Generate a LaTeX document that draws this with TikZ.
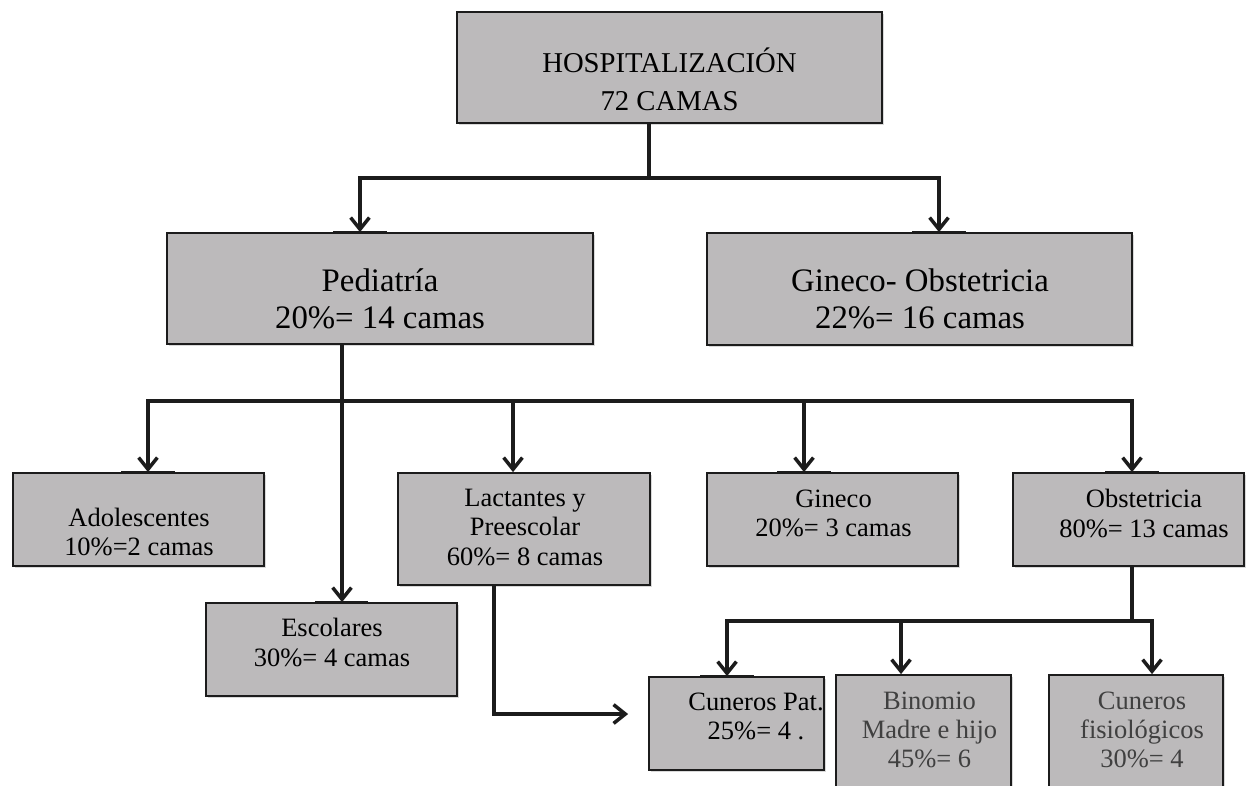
\documentclass[tikz,border=0pt]{standalone}
\usepackage{fontspec}
\setmainfont{Liberation Serif}
\usetikzlibrary{arrows.meta,shadows}
\definecolor{boxgray}{RGB}{188,186,187}
\definecolor{linegray}{RGB}{28,28,28}

\begin{document}
\begin{tikzpicture}[x=0.03cm,y=-0.03cm,
    box/.style={draw=linegray,line width=1.5pt,fill=boxgray,inner sep=0pt,
      drop shadow={shadow xshift=1.5pt,shadow yshift=-1.5pt,opacity=.3}},
    big/.style={align=center,font=\fontsize{28}{31.6}\selectfont},
    small/.style={align=center,font=\fontsize{22.6}{24.8}\selectfont},
    conn/.style={draw=linegray,line width=4pt},
    arr/.style={conn,-{Straight Barb[length=10pt,width=16pt,line width=3pt]}},
    landbar/.style={draw=linegray,line width=2.5pt}]
  \useasboundingbox (0,0) rectangle (1247,786);
  \clip (0,0) rectangle (1247,786);

  % boxes
  \node[box,minimum width=12.75cm,minimum height=3.33cm] (hosp) at (669.5,67.5) {};
  \node[box,minimum width=12.78cm,minimum height=3.33cm] (ped) at (380,288.5) {};
  \node[box,minimum width=12.75cm,minimum height=3.36cm] (gob) at (919.5,289) {};
  \node[box,minimum width=7.53cm,minimum height=2.79cm] (ado) at (138.5,519.5) {};
  \node[box,minimum width=7.53cm,minimum height=2.79cm] (esc) at (331.5,649.5) {};
  \node[box,minimum width=7.56cm,minimum height=3.36cm] (lac) at (524,529) {};
  \node[box,minimum width=7.53cm,minimum height=2.79cm] (gin) at (832.5,519.5) {};
  \node[box,minimum width=6.93cm,minimum height=2.79cm] (obs) at (1128.5,519.5) {};
  \node[box,minimum width=5.25cm,minimum height=2.79cm] (cpat) at (736.5,723.5) {};
  \node[box,minimum width=5.25cm,minimum height=4.05cm] (bin) at (923.5,742.5) {};
  \node[box,minimum width=5.22cm,minimum height=4.05cm] (cfis) at (1136,742.5) {};

  % texts
  \node[big,font=\fontsize{24.5}{32.4}\selectfont] (hosp-t) at (669.5,79) {HOSPITALIZACIÓN\\72 CAMAS};
  \node[big] (ped-t) at (380,299) {Pediatría\\20\%= 14 camas};
  \node[big] (gob-t) at (920,299) {Gineco- Obstetricia\\22\%= 16 camas};
  \node[small] (ado-t) at (139,532) {Adolescentes\\10\%=2 camas};
  \node[small] (esc-t) at (332,642.5) {Escolares\\30\%= 4 camas};
  \node[small] (lac-t) at (525,527.5) {Lactantes y\\Preescolar\\60\%= 8 camas};
  \node[small] (gin-t) at (833.5,513) {Gineco\\20\%= 3 camas};
  \node[small] (obs-t) at (1144,513.5) {Obstetricia\\80\%= 13 camas};
  \node[small] (cpat-t) at (756,716) {Cuneros Pat.\\25\%= 4 .};
  \node[small,text=black!75] (bin-t) at (929.5,730) {Binomio\\Madre e hijo\\45\%= 6};
  \node[small,text=black!75] (cfis-t) at (1142,730) {Cuneros\\fisiológicos\\30\%= 4};

  % junctions
  \coordinate (bar0) at (649,178);
  \coordinate (bar1) at (342,401);
  \coordinate (bar2) at (1132,621);

  % connectors
  \draw[conn] (hosp.south -| bar0) -- (bar0);
  \draw[arr] (bar0) -| ([xshift=-.6cm]ped.north);
  \draw[arr] (bar0) -| ([xshift=.585cm]gob.north);

  \draw[arr] (ped.south -| bar1) -- (esc.north -| bar1);
  \draw[arr] (bar1) -| ([xshift=.285cm]ado.north);
  \draw[arr] (bar1) -| ([xshift=-.33cm]lac.north);
  \draw[arr] (bar1) -| ([xshift=-.855cm]gin.north);
  \draw[arr] (bar1) -| ([xshift=.105cm]obs.north);

  \draw[arr] ([xshift=-.9cm]lac.south) |- ([xshift=-.6cm,yshift=.285cm]cpat.west);

  \draw[conn] (obs.south -| bar2) -- (bar2);
  \draw[arr] (bar2) -| ([xshift=-.285cm]cpat.north);
  \draw[arr] (bar2) -| ([xshift=-.675cm]bin.north);
  \draw[arr] (bar2) -| ([xshift=.48cm]cfis.north);

  % dark marks where arrows land
  \foreach \n/\s in {ped/-.6,gob/.585,ado/.285,esc/.3,gin/-.855,obs/.105,cpat/-.285}
    \draw[landbar] ([xshift={(\s-.8)*1cm}]\n.north) -- ([xshift={(\s+.8)*1cm}]\n.north);
\end{tikzpicture}
\end{document}
